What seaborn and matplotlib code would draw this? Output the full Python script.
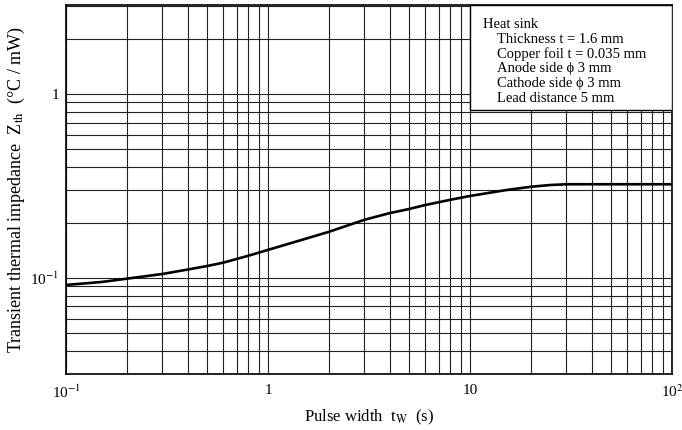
import matplotlib
matplotlib.use("Agg")
import matplotlib.pyplot as plt
import matplotlib.ticker as mticker
from matplotlib.patches import Rectangle
import seaborn as sns
import pandas as pd

# values
tw = [0.1, 0.15, 0.2, 0.3, 0.4, 0.5, 0.6, 0.8, 1, 1.5, 2, 3, 4, 5, 6, 8, 10, 15, 20, 25, 30, 50, 100]
zth = [0.0915, 0.095, 0.099, 0.105, 0.111, 0.116, 0.121, 0.132, 0.142, 0.162, 0.178, 0.207, 0.225, 0.237, 0.249, 0.266, 0.279, 0.300, 0.313, 0.320, 0.323, 0.323, 0.323]

note_title = "Heat sink"
note_lines = ["Thickness t = 1.6 mm", "Copper foil t = 0.035 mm", "Anode side \u03d5 3 mm",
              "Cathode side \u03d5 3 mm", "Lead distance 5 mm"]

df = pd.DataFrame({"tw": tw, "zth": zth})

sns.set_style("white")
plt.rcParams['font.family'] = ['Liberation Serif', 'DejaVu Serif']
plt.rcParams['mathtext.fontset'] = 'stix'
plt.rcParams['text.color'] = 'black'
plt.rcParams['axes.labelcolor'] = 'black'
plt.rcParams['xtick.color'] = 'black'
plt.rcParams['ytick.color'] = 'black'

fig = plt.figure(figsize=(6.82, 4.30), dpi=100)
ax = fig.add_axes([0.0968, 0.1302, 0.8885, 0.8582])

sns.lineplot(data=df, x="tw", y="zth", ax=ax, color="black", linewidth=1.9)
ax.set_xscale("log")
ax.set_yscale("log")
ax.set_xlim(0.1, 100)
ax.set_ylim(0.03, 3.05)

ax.xaxis.set_minor_locator(mticker.LogLocator(base=10, subs=range(2, 10)))
ax.yaxis.set_minor_locator(mticker.LogLocator(base=10, subs=range(2, 10)))
ax.yaxis.set_minor_formatter(mticker.NullFormatter())
ax.xaxis.set_minor_formatter(mticker.NullFormatter())
ax.set_xticks([0.1, 1, 10, 100])
ax.set_xticklabels(["10$^{-1}$", "1", "10", "10$^{2}$"])
ax.set_yticks([0.1, 1])
ax.set_yticklabels(["10$^{-1}$", "1"])
ax.tick_params(which="both", length=0, labelsize=11)
ax.tick_params(axis="x", pad=7)
ax.tick_params(axis="y", pad=5)

ax.grid(True, which="both", color="#222222", linewidth=0.8)
for s in ax.spines.values():
    s.set_color("black")
    s.set_linewidth(1.2)

ax.set_xlabel("Pulse width  t$_{\\mathrm{W}}$  (s)", fontsize=12, labelpad=5)
ax.set_ylabel("Transient thermal impedance  Z$_{\\mathrm{th}}$  (\u00b0C / mW)", fontsize=13, labelpad=2)

# annotation box in the upper right
ax.add_patch(Rectangle((0.667, 0.715), 0.333, 0.285, transform=ax.transAxes,
                       facecolor="white", edgecolor="black", linewidth=1.0, zorder=3))
ax.text(0.688, 0.965, note_title, transform=ax.transAxes, fontsize=10.5, va="top", zorder=4)
for i, line in enumerate(note_lines):
    ax.text(0.711, 0.965 - 0.04 * (i + 1), line, transform=ax.transAxes,
            fontsize=10.5, va="top", zorder=4)

fig.savefig("out.png", dpi=100)
